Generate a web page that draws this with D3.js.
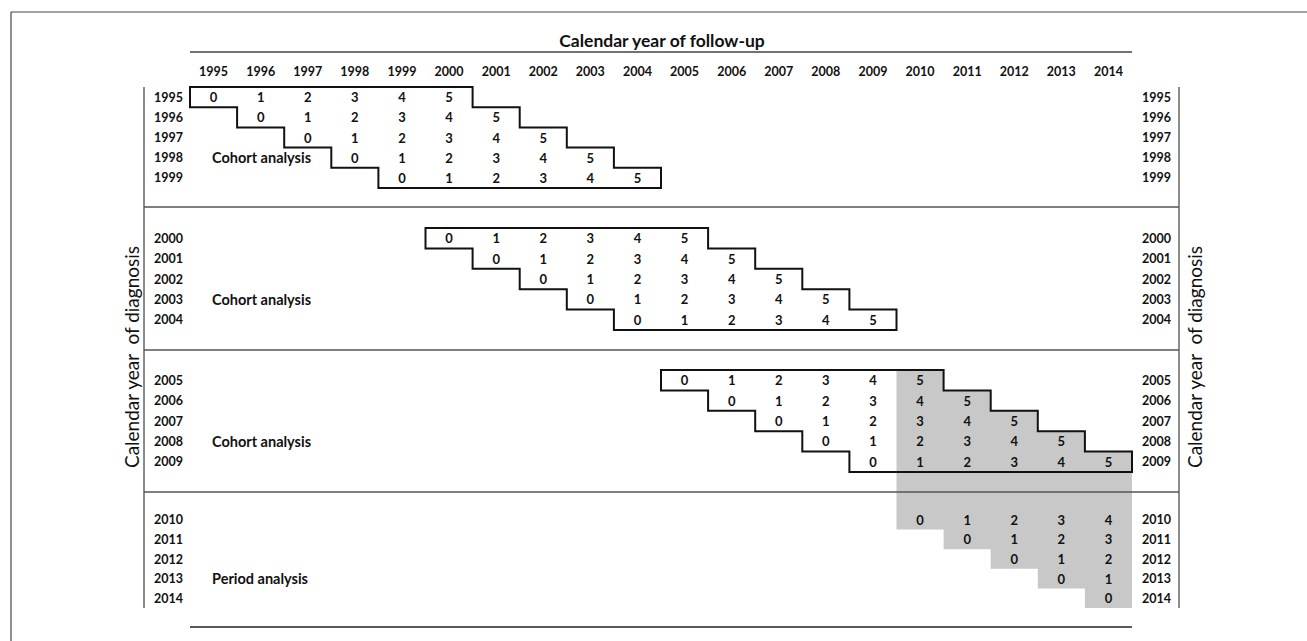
<!DOCTYPE html>
<html>
<head>
<meta charset="utf-8">
<script src="https://cdn.jsdelivr.net/npm/d3@7"></script>
<style>
  html, body { margin: 0; padding: 0; background: #fff; }
  svg { display: block; }
  text { font-family: Lato, "Open Sans", sans-serif; fill: #111; }
</style>
</head>
<body>
<svg id="chart" width="1307" height="641"></svg>
<script>
// ---- data ----
const calendarYears = [1995,1996,1997,1998,1999,2000,2001,2002,2003,2004,2005,2006,2007,2008,2009,2010,2011,2012,2013,2014];
const sectionStarts = [1995, 2000, 2005, 2010];
const sectionLabels = ["Cohort analysis", "Cohort analysis", "Cohort analysis", "Period analysis"];
const sectionYears = [
  [1995,1996,1997,1998,1999],
  [2000,2001,2002,2003,2004],
  [2005,2006,2007,2008,2009],
  [2010,2011,2012,2013,2014]
];
const cohortFollowUp = [0,1,2,3,4,5];
const periodFollowUp = [[0,1,2,3,4],[0,1,2,3],[0,1,2],[0,1],[0]];
const periodCalendar = [2010,2011,2012,2013,2014];
const maxFollowUp = 5;
const titleText = "Calendar year of follow-up";
const axisText = "Calendar year  of diagnosis";

// ---- layout ----
const svg = d3.select("#chart");
const x = d3.scaleLinear().domain([1995, 2015]).range([190, 1132]);
const colW = x(1996) - x(1995);
const sectionRanges = [[87,188],[228,330],[370,472],[510,608]];
const yScales = sectionStarts.map((s, i) => d3.scaleLinear().domain([s, s + 5]).range(sectionRanges[i]));
function sec(year) { return sectionStarts.findIndex((s) => year >= s && year < s + 5); }
function rowTop(year) { return yScales[sec(year)](year); }
function rowBot(year) { return yScales[sec(year)](year + 1); }
function rowMid(year) { return (rowTop(year) + rowBot(year)) / 2; }
const numSize = 13, labSize = 12.5;

// outer frame (top + left)
svg.append("line").attr("x1", 11).attr("x2", 1307).attr("y1", 12).attr("y2", 12).attr("stroke", "#444").attr("stroke-width", 1.2);
svg.append("line").attr("x1", 11).attr("x2", 11).attr("y1", 12).attr("y2", 641).attr("stroke", "#444").attr("stroke-width", 1.2);

// gray period window (single polygon)
const gpts = [];
periodCalendar.forEach(c => {
  gpts.push([x(c), rowTop(c - maxFollowUp)]);
  gpts.push([x(c + 1), rowTop(c - maxFollowUp)]);
});
periodCalendar.slice().reverse().forEach(c => {
  gpts.push([x(c + 1), rowBot(c)]);
  gpts.push([x(c), rowBot(c)]);
});
svg.append("path").attr("d", d3.line()(gpts) + "Z").attr("fill", "#c8c8c8");

// title and header
svg.append("text").attr("x", 662).attr("y", 40).attr("text-anchor", "middle").attr("dominant-baseline", "central")
  .attr("font-size", 17.5).attr("font-weight", "bold").text(titleText);
svg.append("line").attr("x1", x(1995)).attr("x2", x(2015)).attr("y1", 52).attr("y2", 52).attr("stroke", "#444").attr("stroke-width", 1.3);
svg.append("g").selectAll("text").data(calendarYears).join("text")
  .attr("x", d => x(d) + colW / 2).attr("y", 71).attr("text-anchor", "middle").attr("dominant-baseline", "central")
  .attr("font-size", labSize).attr("font-weight", "bold").text(d => d);
svg.append("line").attr("x1", x(1995)).attr("x2", x(2015)).attr("y1", 627).attr("y2", 627).attr("stroke", "#222").attr("stroke-width", 1.3);

// side frame lines and separators
svg.append("line").attr("x1", 144).attr("x2", 144).attr("y1", 87).attr("y2", 608).attr("stroke", "#666").attr("stroke-width", 1.5);
svg.append("line").attr("x1", 1179).attr("x2", 1179).attr("y1", 87).attr("y2", 608).attr("stroke", "#666").attr("stroke-width", 1.5);
[207, 350, 492].forEach(ySep => {
  svg.append("line").attr("x1", 144).attr("x2", 1179).attr("y1", ySep).attr("y2", ySep).attr("stroke", "#555").attr("stroke-width", 1.4);
});

// row labels
const allDiag = sectionYears.flat();
svg.append("g").selectAll("text").data(allDiag).join("text")
  .attr("x", 183).attr("y", d => rowMid(d)).attr("text-anchor", "end").attr("dominant-baseline", "central")
  .attr("font-size", labSize).attr("font-weight", "bold").text(d => d);
svg.append("g").selectAll("text").data(allDiag).join("text")
  .attr("x", 1142).attr("y", d => rowMid(d)).attr("text-anchor", "start").attr("dominant-baseline", "central")
  .attr("font-size", labSize).attr("font-weight", "bold").text(d => d);

// cohort outlines and numbers
sectionYears.slice(0, 3).forEach((years) => {
  const s = years[0];
  const pts = [];
  pts.push([x(s), rowTop(s)]);
  years.forEach(d => {
    pts.push([x(d + 6), rowTop(d)]);
    pts.push([x(d + 6), rowBot(d)]);
  });
  for (let k = years.length - 1; k >= 0; k--) {
    const d = years[k];
    pts.push([x(d), rowBot(d)]);
    pts.push([x(d), rowTop(d)]);
  }
  svg.append("path").attr("d", d3.line()(pts) + "Z").attr("fill", "none").attr("stroke", "#111").attr("stroke-width", 2);
  years.forEach(d => {
    svg.append("g").selectAll("text").data(cohortFollowUp).join("text")
      .attr("x", f => x(d + f) + colW / 2).attr("y", rowMid(d)).attr("text-anchor", "middle").attr("dominant-baseline", "central")
      .attr("font-size", numSize).attr("font-weight", "bold").text(f => f);
  });
});

// period numbers
sectionYears[3].forEach((d, i) => {
  svg.append("g").selectAll("text").data(periodFollowUp[i]).join("text")
    .attr("x", f => x(d + f) + colW / 2).attr("y", rowMid(d)).attr("text-anchor", "middle").attr("dominant-baseline", "central")
    .attr("font-size", numSize).attr("font-weight", "bold").text(f => f);
});

// section labels
sectionYears.forEach((years, si) => {
  svg.append("text").attr("x", 212).attr("y", rowMid(years[3])).attr("dominant-baseline", "central")
    .attr("font-size", 14.5).attr("font-weight", "bold").text(sectionLabels[si]);
});

// vertical axis labels
[131, 1194].forEach(cx => {
  svg.append("text").attr("transform", `translate(${cx},357) rotate(-90)`).attr("text-anchor", "middle")
    .attr("dominant-baseline", "central").attr("font-size", 19).style("white-space", "pre").text(axisText);
});
</script>
</body>
</html>
